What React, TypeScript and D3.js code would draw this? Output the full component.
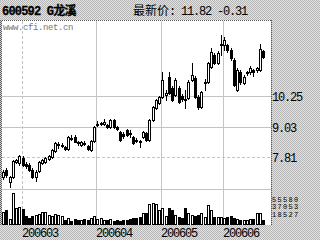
import React from "react";
import * as d3 from "d3";

// Daily K-line for 600592 G龙溪, Feb–Jun 2006
const opens = [7.01,7.29,6.81,7.01,7.61,7.57,7.77,7.53,7.49,7.29,7.01,7.25,7.57,7.61,7.73,7.81,8.05,8.29,8.25,8.21,8.13,8.57,8.61,8.41,8.29,8.37,8.25,8.09,8.45,9.09,9.13,9.13,9.09,9.01,9.29,9.01,8.81,8.73,8.89,8.77,8.61,8.49,8.45,8.61,8.77,8.49,9.29,9.77,9.97,10.21,10.29,11.01,10.57,10.29,10.57,10.25,10.13,10.17,10.89,10.97,10.21,9.81,10.77,10.81,11.41,11.89,11.57,12.29,12.29,12.29,12.09,11.69,10.49,11.21,10.77,11.17,11.21,11.29,11.29,11.29,12.05];
const highs = [7.29,7.37,7.05,7.69,7.73,7.89,7.85,7.61,7.57,7.37,7.29,7.65,7.73,7.81,7.89,8.13,8.41,8.41,8.37,8.25,8.65,8.69,8.69,8.45,8.45,8.45,8.29,8.49,9.05,9.25,9.21,9.33,9.13,9.33,9.33,9.05,8.85,8.81,8.93,8.89,8.65,8.57,8.49,8.85,8.81,9.33,9.85,10.13,10.25,11.21,10.49,11.21,10.65,10.97,10.65,10.33,10.49,10.89,11.57,11.05,10.29,10.45,10.93,11.61,12.17,11.97,12.05,12.69,12.61,12.33,12.17,11.77,11.37,11.29,11.09,11.25,11.45,11.33,11.41,12.33,12.09];
const lows = [6.93,7.01,6.61,6.97,7.57,7.49,7.45,7.37,7.25,6.97,6.85,7.21,7.53,7.57,7.69,7.77,8.01,8.17,8.21,8.09,8.09,8.49,8.41,8.29,8.25,8.29,8.09,8.05,8.41,9.05,9.09,9.09,8.97,8.97,8.97,8.89,8.45,8.57,8.65,8.61,8.33,8.41,8.21,8.57,8.45,8.45,9.25,9.73,9.93,10.17,10.09,10.33,10.05,10.25,9.97,10.05,9.77,10.13,10.85,10.17,9.73,9.77,10.49,10.77,11.37,11.53,11.53,11.89,12.09,12.01,11.69,10.65,10.45,10.73,10.73,11.09,11.13,11.05,11.21,11.25,11.77];
const closes = [7.21,7.09,7.01,7.65,7.69,7.85,7.49,7.45,7.29,7.01,7.21,7.61,7.69,7.77,7.85,8.09,8.37,8.33,8.29,8.13,8.61,8.53,8.41,8.37,8.41,8.33,8.13,8.45,9.01,9.13,9.17,9.21,9.01,9.29,9.01,8.93,8.49,8.65,8.69,8.73,8.37,8.45,8.41,8.81,8.49,9.29,9.81,10.09,10.21,10.89,10.37,10.37,10.09,10.89,10.01,10.13,10.09,10.81,11.09,10.21,9.81,10.41,10.81,11.57,12.01,11.57,11.97,12.33,12.49,12.09,11.77,10.69,11.29,10.81,11.01,11.21,11.37,11.21,11.37,12.13,11.82];
const volumes = [26700,31100,11100,68900,35600,37800,33300,17800,13300,17800,20000,22200,26700,26700,20000,17800,22200,20000,17800,8900,13300,6700,11100,8900,8900,11100,8900,13300,17800,11100,13300,8900,8900,11100,6700,8900,6700,8900,8900,11100,13300,13300,15600,24500,24500,44500,46700,44500,31100,35600,17800,35600,31100,20000,15600,13300,35600,24500,20000,17800,20000,24500,15600,42200,31100,15600,15600,15600,13300,15600,17800,13300,11100,8900,8900,8900,11100,11100,24500,24500,8900];

// first trading day index of each month and its label
const monthStarts = [6, 29, 49, 68];
const monthLabels = ["200603", "200604", "200605", "200606"];
const priceTicks = [10.25, 9.03, 7.81];
const volumeTicks = [55580, 37053, 18527];

const title = "600592 G龙溪";
const lastLabel = "最新价";
const lastValue = ": 11.82 -0.31";
const watermark = "www.cfi.net.cn";

const W = 320;
const H = 240;
const mono = "'Liberation Mono', 'DejaVu Sans Mono', monospace";
const cjk = "'Noto Sans CJK SC', sans-serif";

export default function App() {
  const n = closes.length;
  const x = d3
    .scaleBand<number>()
    .domain(d3.range(n))
    .range([2, 2 + n * 3.25])
    .paddingInner(0);
  const y = d3.scaleLinear().domain([7.81, 10.25]).range([157, 96]);
  const yv = d3.scaleLinear().domain([0, 55580]).range([224, 199]);

  const plotL = 2;
  const plotR = 271;
  const plotT = 20;
  const sepY = 189;
  const plotB = 225;

  const left = (i: number) => Math.round(x(i) as number);

  return (
    <svg
      width={W}
      height={H}
      style={{ position: "absolute", left: 0, top: 0, display: "block" }}
      shapeRendering="crispEdges"
    >
      <defs>
        <pattern id="dither" width="2" height="2" patternUnits="userSpaceOnUse">
          <rect width="2" height="2" fill="#e4e4e4" />
          <rect width="1" height="1" fill="#b4b4b4" />
          <rect x="1" y="1" width="1" height="1" fill="#b4b4b4" />
        </pattern>
        <pattern id="ditherDark" width="2" height="2" patternUnits="userSpaceOnUse">
          <rect width="2" height="2" fill="#d0d0d0" />
          <rect width="1" height="1" fill="#606060" />
          <rect x="1" y="1" width="1" height="1" fill="#606060" />
        </pattern>
      </defs>

      <rect width={W} height={H} fill="url(#dither)" />
      <rect x={plotL} y={plotT} width={plotR - plotL} height={plotB - plotT} fill="#fff" />
      <rect x={0} y={plotT} width={2} height={plotB - plotT} fill="url(#ditherDark)" />
      <line x1={plotL} x2={plotR} y1={plotT + 0.5} y2={plotT + 0.5} stroke="#555" strokeDasharray="1,1" />
      <line x1={plotR + 0.5} x2={plotR + 0.5} y1={plotT} y2={plotB} stroke="#555" strokeDasharray="1,1" />

      {/* header */}
      <text x={2} y={15} fontFamily={`${mono}, ${cjk}`} fontWeight="bold" fontSize={12} letterSpacing={-0.8} fill="#000" stroke="#000" strokeWidth={0.3}>
        {title}
      </text>
      <text x={133} y={15} fontFamily={cjk} fontSize={12} fill="#000">
        {lastLabel}
      </text>
      <text x={169} y={15} fontFamily={mono} fontSize={12} letterSpacing={-1.2} fill="#000">
        {lastValue}
      </text>

      <text x={3} y={30} fontFamily={mono} fontSize={9} letterSpacing={-0.4} fill="#777">
        {watermark}
      </text>

      {/* grid */}
      {priceTicks.map((t, k) => (
        <line
          key={"h" + t}
          x1={plotL}
          x2={plotR}
          y1={Math.round(y(t)) + 0.5}
          y2={Math.round(y(t)) + 0.5}
          stroke="#c4c4c4"
          strokeDasharray={k === 2 ? "3,2" : undefined}
        />
      ))}
      {monthStarts.map((m, k) => (
        <line
          key={"v" + m}
          x1={left(m) + 0.5}
          x2={left(m) + 0.5}
          y1={plotT + 1}
          y2={plotB}
          stroke="#c4c4c4"
          strokeDasharray={k === 0 ? "3,2" : undefined}
        />
      ))}
      <line x1={plotL} x2={plotR} y1={sepY + 0.5} y2={sepY + 0.5} stroke="#c4c4c4" />

      {/* candles */}
      {closes.map((c, i) => {
        const o = opens[i];
        const up = c >= o;
        const cx = left(i) + 1.5;
        const top = Math.round(y(Math.max(o, c)));
        const bot = Math.round(y(Math.min(o, c)));
        return (
          <g key={"k" + i}>
            <line x1={cx} x2={cx} y1={Math.round(y(highs[i]))} y2={Math.round(y(lows[i])) + 1} stroke="#000" />
            <rect
              x={left(i) + 0.5}
              y={top + 0.5}
              width={2}
              height={Math.max(bot - top, 1)}
              fill={up ? "#fff" : "#000"}
              stroke="#000"
            />
          </g>
        );
      })}

      {/* volume */}
      {volumes.map((v, i) => {
        const up = closes[i] >= opens[i];
        const top = Math.round(yv(v));
        return (
          <rect
            key={"v" + i}
            x={left(i) + 0.5}
            y={top + 0.5}
            width={2}
            height={Math.max(224 - top, 1)}
            fill={up ? "#fff" : "#000"}
            stroke="#000"
          />
        );
      })}

      {/* right axis labels */}
      {priceTicks.map((t) => (
        <text key={"pl" + t} x={272} y={Math.round(y(t)) + 5} fontFamily={mono} fontSize={12} letterSpacing={-1.2} fill="#000">
          {t.toFixed(2)}
        </text>
      ))}
      {volumeTicks.map((t, k) => (
        <text key={"vl" + t} x={272} y={201.5 + k * 7.5} fontFamily={mono} fontSize={7} letterSpacing={1.3} fill="#000">
          {t}
        </text>
      ))}

      {/* month labels */}
      {monthStarts.map((m, k) => (
        <text key={"ml" + m} x={left(m)} y={237} fontFamily={mono} fontSize={12} letterSpacing={-1.2} fill="#000">
          {monthLabels[k]}
        </text>
      ))}
    </svg>
  );
}
